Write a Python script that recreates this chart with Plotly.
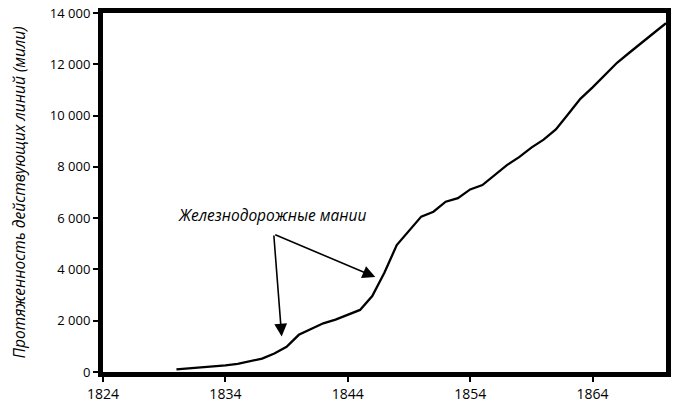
import plotly.graph_objects as go

years = list(range(1830, 1871))
miles = [100, 135, 175, 215, 260, 320, 410, 520, 720, 980,
         1450, 1680, 1900, 2040, 2220, 2420, 2960, 3880, 4950, 5500,
         6060, 6250, 6640, 6780, 7120, 7290, 7680, 8070, 8380, 8750,
         9060, 9460, 10050, 10650, 11100, 11560, 12060, 12450, 12850, 13220, 13600]

x_ticks = [1824, 1834, 1844, 1854, 1864]
y_ticks = [0, 2000, 4000, 6000, 8000, 10000, 12000, 14000]

font_family = "Open Sans, Noto Sans, sans-serif"

W, H = 682, 409
ML, MR, MT, MB = 103, 16, 13, 37

fig = go.Figure()
fig.add_trace(go.Scatter(x=years, y=miles, mode="lines",
                         line=dict(color="black", width=2.3),
                         showlegend=False, hoverinfo="skip"))

arrow_tail = (1837.95, 5380)
heads = [(1838.6, 1380), (1846.25, 3700)]
for hx, hy in heads:
    fig.add_annotation(x=hx, y=hy, ax=arrow_tail[0], ay=arrow_tail[1],
                       xref="x", yref="y", axref="x", ayref="y",
                       text="", showarrow=True, arrowhead=2, arrowsize=1.6,
                       arrowwidth=1.6, arrowcolor="black")

fig.add_annotation(x=1837.8, y=6120, xref="x", yref="y",
                   text="<i>Железнодорожные мании</i>", showarrow=False,
                   font=dict(family=font_family, size=15.5, color="black"))

# y-axis title placed at the left edge of the figure
fig.add_annotation(x=-(ML - 18) / (W - ML - MR), y=0.5, xref="paper", yref="paper",
                   text="<i>Протяженность действующих линий (мили)</i>",
                   textangle=-90, showarrow=False, xanchor="center", yanchor="middle",
                   font=dict(family=font_family, size=15.5, color="black"))

fig.update_layout(
    width=W, height=H,
    margin=dict(l=ML, r=MR, t=MT, b=MB, autoexpand=False),
    paper_bgcolor="white", plot_bgcolor="white",
    separators=", ",
    font=dict(family=font_family, size=13, color="black"),
    xaxis=dict(range=[1824, 1870], tickmode="array", tickvals=x_ticks,
               ticktext=[str(v) for v in x_ticks], automargin=False,
               showgrid=False, zeroline=False,
               showline=True, linecolor="black", linewidth=5, mirror=True,
               ticks="outside", ticklen=5, tickwidth=1.5, tickcolor="black",
               tickfont=dict(size=14)),
    yaxis=dict(range=[0, 14000], tickmode="array", tickvals=y_ticks,
               tickformat=",d", automargin=False,
               showgrid=False, zeroline=False,
               showline=True, linecolor="black", linewidth=5, mirror=True,
               ticks="outside", ticklen=5, tickwidth=1.5, tickcolor="black",
               tickfont=dict(size=13)),
)

fig.write_html("out.html", config={"displayModeBar": False},
               post_script="document.body.style.margin='0';document.body.style.overflow='hidden';")
